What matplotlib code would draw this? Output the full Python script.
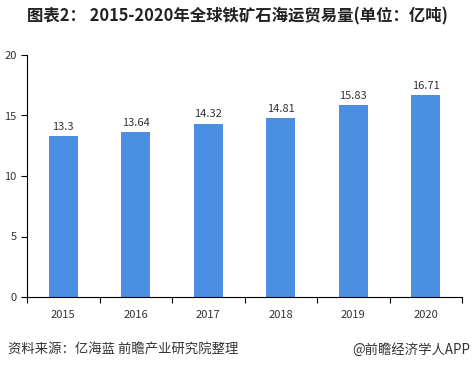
import matplotlib.pyplot as plt
import numpy as np

plt.rcParams['font.family'] = ['Noto Sans CJK SC', 'DejaVu Sans']

years = ['2015', '2016', '2017', '2018', '2019', '2020']
volumes = [13.3, 13.64, 14.32, 14.81, 15.83, 16.71]
yticks = [0, 5, 10, 15, 20]

fig = plt.figure(figsize=(4.75, 3.69), dpi=100)
ax = fig.add_axes([27 / 475, 1 - 297 / 369, 435 / 475, 242 / 369])

x = np.arange(len(years))
ax.bar(x, volumes, width=0.4, color='#4a8fe2')
for xi, v in zip(x, volumes):
    ax.text(xi, v + 0.35, f'{v:g}', ha='center', va='bottom', fontsize=8, color='#333333')

ax.set_xlim(-0.5, len(years) - 0.5)
ax.set_ylim(0, 20)
ax.set_yticks(yticks)
ax.set_xticks(x)
ax.set_xticklabels(years)
ax.set_xticks(np.arange(-0.5, len(years)), minor=True)
ax.tick_params(axis='x', which='major', length=0, labelsize=8, pad=9, colors='#333333')
ax.tick_params(axis='x', which='minor', length=4, color='black', width=0.8)
ax.tick_params(axis='y', length=4, labelsize=8, colors='#333333', width=0.8)
ax.tick_params(axis='y', color='black')
for s in ['top', 'right']:
    ax.spines[s].set_visible(False)
for s in ['left', 'bottom']:
    ax.spines[s].set_linewidth(0.8)

fig.text(0.5, 1 - 16 / 369, '图表2： 2015-2020年全球铁矿石海运贸易量(单位：亿吨)',
         ha='center', va='center', fontsize=11.8, fontweight='bold', color='#222222')
fig.text(8 / 475, 1 - 350 / 369, '资料来源：亿海蓝 前瞻产业研究院整理',
         ha='left', va='center', fontsize=9.6, color='#333333')
fig.text(470 / 475, 1 - 350 / 369, '@前瞻经济学人APP',
         ha='right', va='center', fontsize=9.6, color='#333333')

fig.savefig('out.png', dpi=100)
